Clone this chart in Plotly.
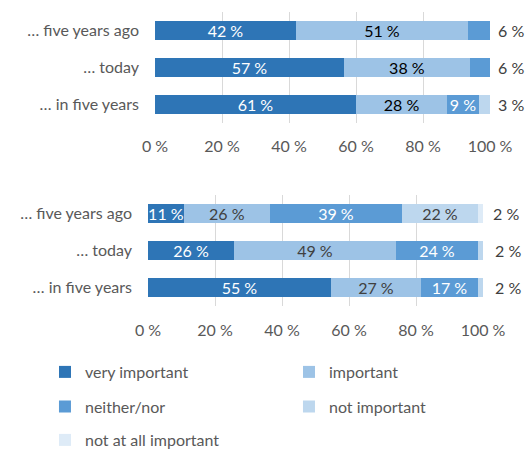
import plotly.graph_objects as go

categories = ["… five years ago", "… today", "… in five years"]
series = ["very important", "important", "neither/nor", "not important", "not at all important"]
colors = ["#2E75B6", "#9DC3E6", "#5B9BD5", "#BDD7EE", "#DEEBF7"]

# top chart values (share in %)
top_values = {
    "very important": [42.1, 56.4, 60.0],
    "important": [51.3, 37.6, 27.2],
    "neither/nor": [6.6, 6.0, 9.5],
    "not important": [0, 0, 3.3],
    "not at all important": [0, 0, 0],
}
top_labels = {
    "very important": ["42 %", "57 %", "61 %"],
    "important": ["51 %", "38 %", "28 %"],
    "neither/nor": ["", "", "9 %"],
    "not important": ["", "", ""],
    "not at all important": ["", "", ""],
}
top_outside = ["6 %", "6 %", "3 %"]

# bottom chart values (share in %)
bot_values = {
    "very important": [10.7, 25.7, 54.6],
    "important": [25.7, 48.3, 26.9],
    "neither/nor": [39.4, 24.5, 17.0],
    "not important": [22.7, 1.5, 1.5],
    "not at all important": [1.5, 0, 0],
}
bot_labels = {
    "very important": ["11 %", "26 %", "55 %"],
    "important": ["26 %", "49 %", "27 %"],
    "neither/nor": ["39 %", "24 %", "17 %"],
    "not important": ["22 %", "", ""],
    "not at all important": ["", "", ""],
}
bot_outside = ["2 %", "2 %", "2 %"]

tick_vals = [0, 20, 40, 60, 80, 100]
tick_text = ["0 %", "20 %", "40 %", "60 %", "80 %", "100 %"]

FONT = "Lato"
GRAY = "#595959"

top_text_colors = ["#FFFFFF", "#000000", "#FFFFFF", "#404040", "#404040"]
bot_text_colors = ["#FFFFFF", "#404040", "#FFFFFF", "#404040", "#404040"]
legend_ids = ["legend", "legend", "legend2", "legend2", "legend3"]

fig = go.Figure()

for i, s in enumerate(series):
    fig.add_trace(go.Bar(
        name=s, orientation="h", y=categories, x=top_values[s],
        text=top_labels[s], textposition="inside", insidetextanchor="middle",
        constraintext="none",
        textfont=dict(family=FONT, size=16, color=top_text_colors[i]),
        marker=dict(color=colors[i], line=dict(width=0)),
        xaxis="x", yaxis="y", showlegend=False, hoverinfo="skip",
    ))

for i, s in enumerate(series):
    fig.add_trace(go.Bar(
        name=s, orientation="h", y=categories, x=bot_values[s],
        text=bot_labels[s], textposition="inside", insidetextanchor="middle",
        constraintext="none",
        textfont=dict(family=FONT, size=16, color=bot_text_colors[i]),
        marker=dict(color=colors[i], line=dict(width=0)),
        xaxis="x2", yaxis="y2", showlegend=True, legend=legend_ids[i],
        hoverinfo="skip",
    ))

annotations = []
for j, c in enumerate(categories):
    annotations.append(dict(x=1.062, y=c, xref="x domain", yref="y", text=top_outside[j],
                            showarrow=False, xanchor="center",
                            font=dict(family=FONT, size=16, color="#404040")))
    annotations.append(dict(x=1.075 if j else 1.069, y=c, xref="x2 domain", yref="y2",
                            text=bot_outside[j], showarrow=False, xanchor="center",
                            font=dict(family=FONT, size=16, color="#404040")))

xaxis_common = dict(range=[0, 100], tickvals=tick_vals, ticktext=tick_text,
                    showgrid=True, gridcolor="#D9D9D9", gridwidth=1,
                    zeroline=False, showline=False, ticks="",
                    fixedrange=True, automargin=False,
                    tickfont=dict(family=FONT, size=16, color=GRAY))
yaxis_common = dict(categoryorder="array", categoryarray=categories,
                    autorange="reversed", showgrid=False, zeroline=False,
                    showline=False, ticks="", ticklabelstandoff=15, automargin=False,
                    tickfont=dict(family=FONT, size=16, color=GRAY))

legend_common = dict(orientation="h", entrywidth=199, entrywidthmode="pixels",
                     font=dict(family=FONT, size=16, color=GRAY),
                     xanchor="left", yanchor="middle", x=0.0855,
                     bgcolor="rgba(0,0,0,0)", traceorder="normal")

fig.update_layout(
    width=526, height=450,
    margin=dict(l=0, r=0, t=0, b=0, autoexpand=False),
    paper_bgcolor="white", plot_bgcolor="white",
    barmode="stack", bargap=0.5,
    font=dict(family=FONT, size=16, color=GRAY),
    xaxis=dict(domain=[0.2947, 0.9316], anchor="y", ticklabelstandoff=12, **xaxis_common),
    yaxis=dict(domain=[0.7256, 0.9744], anchor="x", **yaxis_common),
    xaxis2=dict(domain=[0.2814, 0.9183], anchor="y2", ticklabelstandoff=13, **xaxis_common),
    yaxis2=dict(domain=[0.32, 0.5667], anchor="x2", **yaxis_common),
    legend=dict(y=1 - 372 / 450, **legend_common),
    legend2=dict(y=1 - 406.5 / 450, **legend_common),
    legend3=dict(y=1 - 440 / 450, **legend_common),
    annotations=annotations,
    showlegend=True,
)

fig.write_html("out.html")
